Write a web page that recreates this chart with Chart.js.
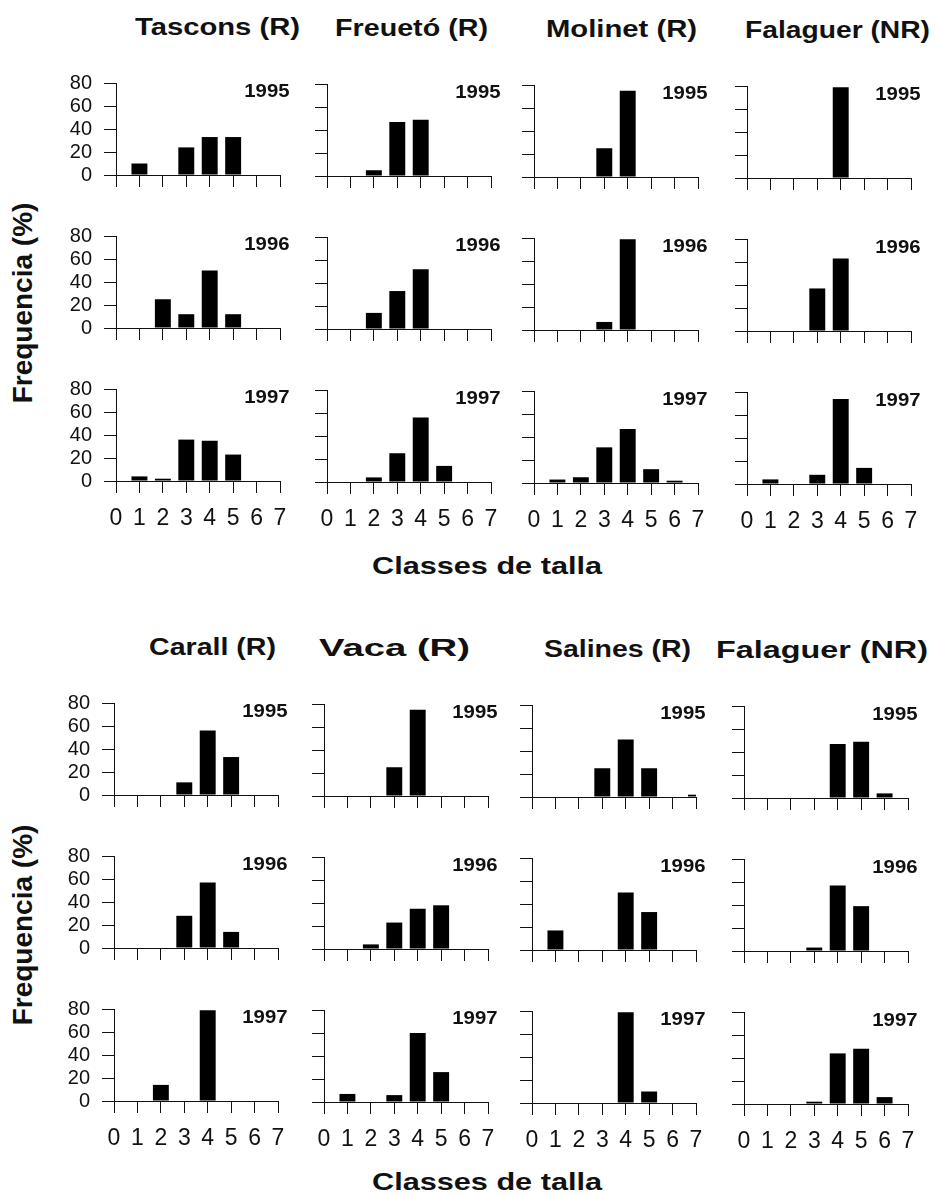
<!DOCTYPE html>
<html>
<head>
<meta charset="utf-8">
<script src="https://cdn.jsdelivr.net/npm/chart.js@4.4.0/dist/chart.umd.min.js"></script>
<style>
html, body { margin: 0; padding: 0; background: #fff; }
#fig { position: relative; width: 935px; height: 1196px; overflow: hidden; background: #fff;
       font-family: "Liberation Sans", Arial, sans-serif; color: #111; }
.panel { position: absolute; }
.lbl { position: absolute; white-space: nowrap; font-weight: bold; transform-origin: 0 0; }
</style>
</head>
<body>
<div id="fig"></div>
<script>
// size classes on the x axis, one chart per site and year
const classes = ['0', '1', '2', '3', '4', '5', '6', '7'];
const years = ['1995', '1996', '1997'];

const sitesA = ['Tascons (R)', 'Freuetó (R)', 'Molinet (R)', 'Falaguer (NR)'];
const sitesB = ['Carall (R)', 'Vaca (R)', 'Salines (R)', 'Falaguer (NR)'];

// frequency (%) per size class, rows = 1995, 1996, 1997
const tascons = [
    [0, 10, 0, 24, 33, 33, 0, 0],
    [0, 0, 25, 12, 50, 12, 0, 0],
    [0, 4, 2, 36, 35, 23, 0, 0]
];
const freueto = [
    [0, 0, 5, 47, 49, 0, 0, 0],
    [0, 0, 14, 33, 52, 0, 0, 0],
    [0, 0, 4, 25, 56, 14, 0, 0]
];
const molinet = [
    [0, 0, 0, 25, 75, 0, 0, 0],
    [0, 0, 0, 7, 79, 0, 0, 0],
    [0, 3, 5, 31, 47, 12, 2, 0]
];
const falaguerA = [
    [0, 0, 0, 0, 79, 0, 0, 0],
    [0, 0, 0, 37, 63, 0, 0, 0],
    [0, 4, 0, 8, 74, 14, 0, 0]
];
const carall = [
    [0, 0, 0, 11, 56, 33, 0, 0],
    [0, 0, 0, 28, 57, 14, 0, 0],
    [0, 0, 14, 0, 79, 0, 0, 0]
];
const vaca = [
    [0, 0, 0, 25, 75, 0, 0, 0],
    [0, 0, 4, 23, 35, 38, 0, 0],
    [0, 7, 0, 6, 60, 26, 0, 0]
];
const salines = [
    [0, 0, 0, 25, 50, 25, 0, 2],
    [0, 17, 0, 0, 50, 33, 0, 0],
    [0, 0, 0, 0, 79, 10, 0, 0]
];
const falaguerB = [
    [0, 0, 0, 0, 47, 49, 4, 0],
    [0, 0, 0, 3, 57, 39, 0, 0],
    [0, 0, 0, 2, 44, 48, 6, 0]
];

const INK = '#111';
const FONT = '"Liberation Sans", Arial, sans-serif';
Chart.defaults.font.family = FONT;
Chart.defaults.color = INK;

// panel geometry (plot area + room around it for ticks and labels)
const PLOT_W = 164, PLOT_H = 92;
const PAD_L = 60, PAD_T = 10, PAD_R = 16, PAD_B = 58;

const groups = [
    { sites: sitesA, series: [tascons, freueto, molinet, falaguerA],
      colX: [116, 327, 534, 747], rowY: [83, 236, 389],
      titles: [[135, 300], [335, 488], [546, 697], [745, 930]], titleBase: 35,
      yLabelY: 303, xTitleBase: 574 },
    { sites: sitesB, series: [carall, vaca, salines, falaguerB],
      colX: [114, 324, 532, 744], rowY: [703, 856, 1009],
      titles: [[149, 276], [319, 470], [544, 691], [716, 928]], titleBase: 655,
      yLabelY: 925, xTitleBase: 1190 }
];
const colDy = [0, 1, 2, 3]; // the scan is a little skewed

const fig = document.getElementById('fig');

const yearPlugin = {
    id: 'yearLabel',
    afterDraw(chart, args, opts) {
        const { ctx, chartArea } = chart;
        ctx.save();
        ctx.font = 'bold 19px ' + FONT;
        ctx.fillStyle = INK;
        ctx.textAlign = 'right';
        ctx.textBaseline = 'alphabetic';
        ctx.translate(chartArea.right + 9.5, chartArea.top + 13.8);
        ctx.scale(1.07, 1);
        ctx.fillText(opts.text, 0, 0);
        ctx.restore();
    }
};

function addPanel(values, year, x0, y80, showY, showX) {
    const canvas = document.createElement('canvas');
    canvas.className = 'panel';
    canvas.width = PAD_L + PLOT_W + PAD_R;
    canvas.height = PAD_T + PLOT_H + PAD_B;
    canvas.style.left = (x0 - PAD_L) + 'px';
    canvas.style.top = (y80 - PAD_T) + 'px';
    fig.appendChild(canvas);

    new Chart(canvas, {
        type: 'bar',
        data: {
            labels: classes,
            datasets: [{
                data: values,
                backgroundColor: '#000',
                borderWidth: 0,
                categoryPercentage: 1,
                barPercentage: 0.68,
                clip: 0
            }]
        },
        options: {
            responsive: false,
            animation: false,
            events: [],
            layout: { padding: { left: 0, top: PAD_T, right: PAD_R, bottom: 0 } },
            plugins: {
                legend: { display: false },
                tooltip: { enabled: false },
                yearLabel: { text: year }
            },
            scales: {
                x: {
                    type: 'category',
                    offset: false,
                    grid: { offset: false, drawOnChartArea: false, tickLength: 12, color: INK, lineWidth: 1 },
                    border: { color: INK, width: 1 },
                    ticks: {
                        autoSkip: false,
                        maxRotation: 0,
                        padding: 12,
                        color: INK,
                        font: { size: 23 },
                        callback: (v, i) => showX ? classes[i] : ''
                    },
                    afterFit: (scale) => {
                        scale.height = PAD_B;
                        scale.paddingLeft = 0;
                        scale.paddingRight = 0;
                    }
                },
                y: {
                    min: 0,
                    max: 80,
                    grid: { drawOnChartArea: false, tickLength: 12, color: INK, lineWidth: 1 },
                    border: { color: INK, width: 1 },
                    ticks: {
                        count: 5,
                        autoSkip: false,
                        padding: 12,
                        color: INK,
                        font: { size: 20 },
                        callback: (v) => showY ? v : ''
                    },
                    afterFit: (scale) => {
                        scale.width = PAD_L;
                        scale.paddingTop = 0;
                        scale.paddingBottom = 0;
                    }
                }
            }
        },
        plugins: [yearPlugin]
    });
}

// bold text stretched to the width it has in the figure
function placeText(text, left, right, baseline, size) {
    const el = document.createElement('div');
    el.className = 'lbl';
    el.textContent = text;
    el.style.fontSize = size + 'px';
    el.style.lineHeight = size + 'px';
    el.style.left = left + 'px';
    el.style.top = (baseline - 0.8465 * size) + 'px';
    fig.appendChild(el);
    const w = el.getBoundingClientRect().width;
    el.style.transform = 'scaleX(' + ((right - left) / w) + ')';
}

function placeVertical(text, cx, cy, size) {
    const el = document.createElement('div');
    el.className = 'lbl';
    el.textContent = text;
    el.style.fontSize = size + 'px';
    el.style.lineHeight = size + 'px';
    fig.appendChild(el);
    const w = el.getBoundingClientRect().width;
    el.style.left = (cx - w / 2) + 'px';
    el.style.top = (cy - size / 2) + 'px';
    el.style.transformOrigin = '50% 50%';
    el.style.transform = 'rotate(-90deg)';
}

groups.forEach((g) => {
    g.sites.forEach((site, c) => {
        const [l, r] = g.titles[c];
        placeText(site, l, r, g.titleBase + colDy[c], 23);
        years.forEach((year, row) => {
            addPanel(g.series[c][row], year, g.colX[c], g.rowY[row] + colDy[c], c === 0, row === years.length - 1);
        });
    });
    placeVertical('Frequencia (%)', 23, g.yLabelY, 28);
    placeText('Classes de talla', 372, 602, g.xTitleBase, 24);
});
</script>
</body>
</html>
